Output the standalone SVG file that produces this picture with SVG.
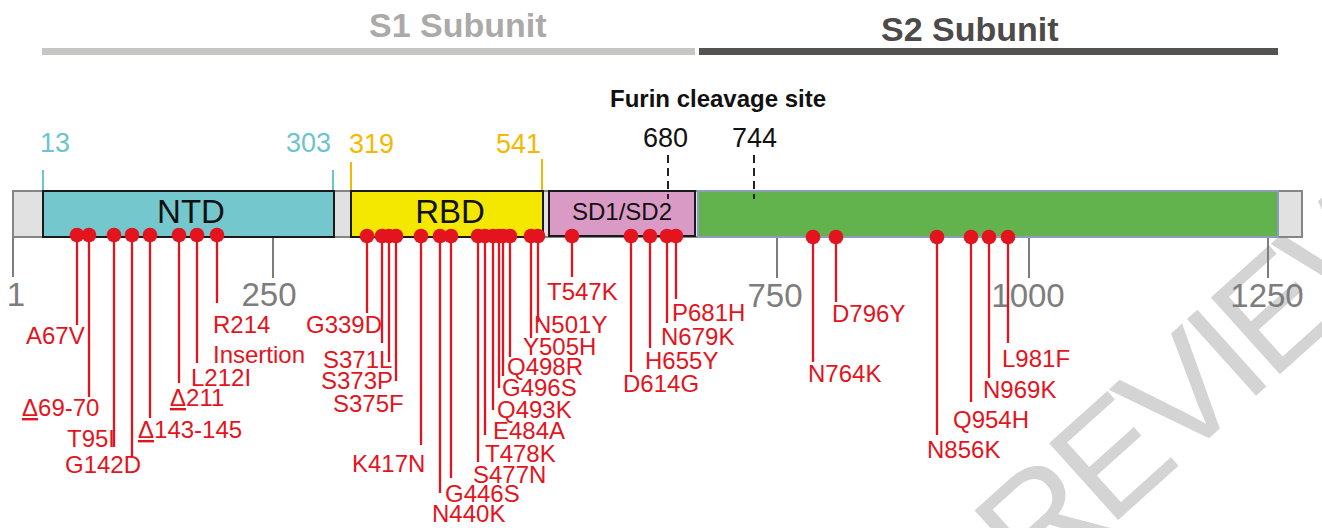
<svg xmlns="http://www.w3.org/2000/svg" width="1322" height="528" viewBox="0 0 1322 528">
  <style>
    text { font-family: "Liberation Sans", Arial, sans-serif; }
    .mut { font-size: 24px; fill: #e3141d; }
    .stem { stroke: #e3141d; stroke-width: 2.3; fill: none; }
    .dot { fill: #e3141d; }
    .tick { stroke: #7d7d7d; stroke-width: 2; }
    .ticklbl { font-size: 33px; fill: #7d7d7d; text-anchor: middle; }
    .dom { stroke: #1a1a1a; stroke-width: 2; }
    .domlbl { font-size: 33px; fill: #111; text-anchor: middle; }
    .teal { fill: #6cc4cc; font-size: 27px; }
    .gold { fill: #f5b800; font-size: 27px; }
    .bound { stroke-width: 2; }
    .cut { stroke: #222; stroke-width: 2; stroke-dasharray: 8 5; }
    .pos { font-size: 27px; fill: #111; }
    .del { text-decoration: underline; }
  </style>

  <!-- watermark -->
  <text transform="translate(966,657) rotate(-42)" font-size="150" letter-spacing="-8" fill="#d4d4d4">PREVIEW</text>

  <!-- subunit headers -->
  <g id="s1-subunit">
    <text x="369" y="37" font-size="34" font-weight="bold" fill="#aba9a9">S1 Subunit</text>
    <rect x="42" y="48" width="653" height="7" fill="#c8c5c5"/>
  </g>
  <g id="s2-subunit">
    <text x="881" y="41" font-size="34" font-weight="bold" fill="#4d4a4a">S2 Subunit</text>
    <rect x="699" y="48" width="579" height="7" fill="#555252"/>
  </g>

  <!-- protein backbone and residue scale -->
  <g id="backbone">
    <rect x="13" y="191" width="1289" height="46" fill="#e2e1e2" stroke="#858585" stroke-width="2"/>
    <line class="tick" x1="13" y1="237" x2="13" y2="277"/>
    <line class="tick" x1="273" y1="237" x2="273" y2="278"/>
    <line class="tick" x1="777" y1="237" x2="777" y2="278"/>
    <line class="tick" x1="1029" y1="237" x2="1029" y2="278"/>
    <line class="tick" x1="1268" y1="237" x2="1268" y2="278"/>
    <text class="ticklbl" x="16" y="306">1</text>
    <text class="ticklbl" x="269" y="306">250</text>
    <text class="ticklbl" x="775" y="307">750</text>
    <text class="ticklbl" x="1028" y="307">1000</text>
    <text class="ticklbl" x="1267" y="307">1250</text>
  </g>

  <!-- domains -->
  <g id="ntd">
    <line class="bound" x1="43" y1="170" x2="43" y2="190" stroke="#6cc4cc"/>
    <line class="bound" x1="333" y1="170" x2="333" y2="190" stroke="#6cc4cc"/>
    <text class="teal" x="40" y="152">13</text>
    <text class="teal" x="286" y="152">303</text>
    <rect class="dom" x="43" y="191" width="291" height="46" fill="#74c7cc"/>
    <text class="domlbl" x="191" y="223">NTD</text>
  </g>
  <g id="rbd">
    <line class="bound" x1="351" y1="162" x2="351" y2="190" stroke="#f5b800"/>
    <line class="bound" x1="542" y1="159" x2="542" y2="190" stroke="#f5b800"/>
    <text class="gold" x="349" y="153">319</text>
    <text class="gold" x="496" y="153">541</text>
    <rect class="dom" x="351" y="191" width="192" height="46" fill="#f4e800"/>
    <text class="domlbl" x="450" y="223">RBD</text>
  </g>
  <g id="sd1-sd2">
    <rect class="dom" x="549" y="191" width="146" height="45" fill="#d99bc5"/>
    <text x="622" y="220" font-size="24" fill="#111" text-anchor="middle">SD1/SD2</text>
  </g>
  <g id="s2-domain">
    <rect x="698" y="191" width="580" height="46" fill="#62b24d" stroke="#8b9cbd" stroke-width="2"/>
  </g>

  <!-- furin site and S2' markers -->
  <g id="furin">
    <text x="610" y="107" font-size="24" font-weight="bold" fill="#111">Furin cleavage site</text>
    <text class="pos" x="643" y="147">680</text>
    <line class="cut" x1="668" y1="155" x2="668" y2="199"/>
  </g>
  <g id="s2-prime">
    <text class="pos" x="732" y="147">744</text>
    <line class="cut" x1="754" y1="155" x2="754" y2="199"/>
  </g>

  <!-- mutation stems -->
  <g id="connectors" class="stem">
    <line x1="77" y1="236" x2="77" y2="325"/>
    <line x1="89" y1="236" x2="89" y2="397"/>
    <line x1="114" y1="236" x2="114" y2="447"/>
    <line x1="132" y1="236" x2="132" y2="457"/>
    <line x1="150" y1="236" x2="150" y2="418"/>
    <line x1="179" y1="236" x2="179" y2="383"/>
    <line x1="197" y1="236" x2="197" y2="363"/>
    <line x1="217" y1="236" x2="217" y2="303"/>

    <line x1="367" y1="236" x2="367" y2="313"/>
    <line x1="382" y1="236" x2="382" y2="343"/>
    <line x1="389" y1="236" x2="389" y2="362"/>
    <line x1="396" y1="236" x2="396" y2="381"/>
    <line x1="421" y1="236" x2="421" y2="445"/>
    <line x1="440" y1="236" x2="440" y2="493"/>
    <line x1="451" y1="236" x2="451" y2="478"/>
    <line x1="478" y1="236" x2="478" y2="462"/>
    <line x1="485" y1="236" x2="485" y2="435"/>
    <line x1="493" y1="236" x2="493" y2="410"/>
    <line x1="499" y1="236" x2="499" y2="388"/>
    <line x1="503" y1="236" x2="503" y2="376"/>
    <line x1="510" y1="236" x2="510" y2="357"/>
    <line x1="531" y1="236" x2="531" y2="338"/>
    <line x1="538" y1="236" x2="538" y2="322"/>

    <line x1="572" y1="236" x2="572" y2="277"/>
    <line x1="631" y1="236" x2="631" y2="372"/>
    <line x1="650" y1="236" x2="650" y2="348"/>
    <line x1="667" y1="236" x2="667" y2="323"/>
    <line x1="676" y1="236" x2="676" y2="299"/>

    <line x1="813" y1="237" x2="813" y2="362"/>
    <line x1="836" y1="237" x2="836" y2="302"/>
    <line x1="937" y1="237" x2="937" y2="435"/>
    <line x1="971" y1="237" x2="971" y2="402"/>
    <line x1="989" y1="237" x2="989" y2="378"/>
    <line x1="1008" y1="237" x2="1008" y2="343"/>
  </g>

  <!-- NTD mutations -->
  <g id="mut-ntd">
    <circle class="dot" cx="77" cy="235" r="7.3"/>
    <circle class="dot" cx="89" cy="235" r="7.3"/>
    <circle class="dot" cx="114" cy="235" r="7.3"/>
    <circle class="dot" cx="132" cy="235" r="7.3"/>
    <circle class="dot" cx="150" cy="235" r="7.3"/>
    <circle class="dot" cx="179" cy="235" r="7.3"/>
    <circle class="dot" cx="197" cy="235" r="7.3"/>
    <circle class="dot" cx="217" cy="235" r="7.3"/>
    <text class="mut" x="26" y="344">A67V</text>
    <text class="mut" x="22" y="416"><tspan class="del">Δ</tspan>69-70</text>
    <text class="mut" x="67" y="447">T95I</text>
    <text class="mut" x="65" y="473">G142D</text>
    <text class="mut" x="138" y="438"><tspan class="del">Δ</tspan>143-145</text>
    <text class="mut" x="170" y="406"><tspan class="del">Δ</tspan>211</text>
    <text class="mut" x="191" y="386">L212I</text>
    <text class="mut" x="213" y="333">R214</text>
    <text class="mut" x="213" y="363">Insertion</text>
  </g>

  <!-- RBD mutations -->
  <g id="mut-rbd">
    <circle class="dot" cx="367" cy="236" r="7.3"/>
    <circle class="dot" cx="382" cy="236" r="7.3"/>
    <circle class="dot" cx="389" cy="236" r="7.3"/>
    <circle class="dot" cx="396" cy="236" r="7.3"/>
    <circle class="dot" cx="421" cy="236" r="7.3"/>
    <circle class="dot" cx="440" cy="236" r="7.3"/>
    <circle class="dot" cx="451" cy="236" r="7.3"/>
    <circle class="dot" cx="478" cy="236" r="7.3"/>
    <circle class="dot" cx="485" cy="236" r="7.3"/>
    <circle class="dot" cx="493" cy="236" r="7.3"/>
    <circle class="dot" cx="499" cy="236" r="7.3"/>
    <circle class="dot" cx="503" cy="236" r="7.3"/>
    <circle class="dot" cx="510" cy="236" r="7.3"/>
    <circle class="dot" cx="531" cy="236" r="7.3"/>
    <circle class="dot" cx="538" cy="236" r="7.3"/>
    <text class="mut" x="306" y="333">G339D</text>
    <text class="mut" x="323" y="368">S371L</text>
    <text class="mut" x="321" y="389">S373P</text>
    <text class="mut" x="333" y="412">S375F</text>
    <text class="mut" x="352" y="472">K417N</text>
    <text class="mut" x="432" y="522">N440K</text>
    <text class="mut" x="445" y="502">G446S</text>
    <text class="mut" x="473" y="483">S477N</text>
    <text class="mut" x="485" y="462">T478K</text>
    <text class="mut" x="493" y="439">E484A</text>
    <text class="mut" x="497" y="418">Q493K</text>
    <text class="mut" x="502" y="396">G496S</text>
    <text class="mut" x="507" y="375">Q498R</text>
    <text class="mut" x="523" y="355">Y505H</text>
    <text class="mut" x="534" y="333">N501Y</text>
  </g>

  <!-- SD1/SD2 mutations -->
  <g id="mut-sd">
    <circle class="dot" cx="572" cy="236" r="7.3"/>
    <circle class="dot" cx="631" cy="236" r="7.3"/>
    <circle class="dot" cx="650" cy="236" r="7.3"/>
    <circle class="dot" cx="667" cy="236" r="7.3"/>
    <circle class="dot" cx="676" cy="236" r="7.3"/>
    <text class="mut" x="547" y="300">T547K</text>
    <text class="mut" x="623" y="392">D614G</text>
    <text class="mut" x="645" y="369">H655Y</text>
    <text class="mut" x="661" y="345">N679K</text>
    <text class="mut" x="672" y="321">P681H</text>
  </g>

  <!-- S2 mutations -->
  <g id="mut-s2">
    <circle class="dot" cx="813" cy="237" r="7.3"/>
    <circle class="dot" cx="836" cy="237" r="7.3"/>
    <circle class="dot" cx="937" cy="237" r="7.3"/>
    <circle class="dot" cx="971" cy="237" r="7.3"/>
    <circle class="dot" cx="989" cy="237" r="7.3"/>
    <circle class="dot" cx="1008" cy="237" r="7.3"/>
    <text class="mut" x="808" y="382">N764K</text>
    <text class="mut" x="832" y="322">D796Y</text>
    <text class="mut" x="927" y="458">N856K</text>
    <text class="mut" x="953" y="428">Q954H</text>
    <text class="mut" x="983" y="398">N969K</text>
    <text class="mut" x="1002" y="367">L981F</text>
  </g>
</svg>
